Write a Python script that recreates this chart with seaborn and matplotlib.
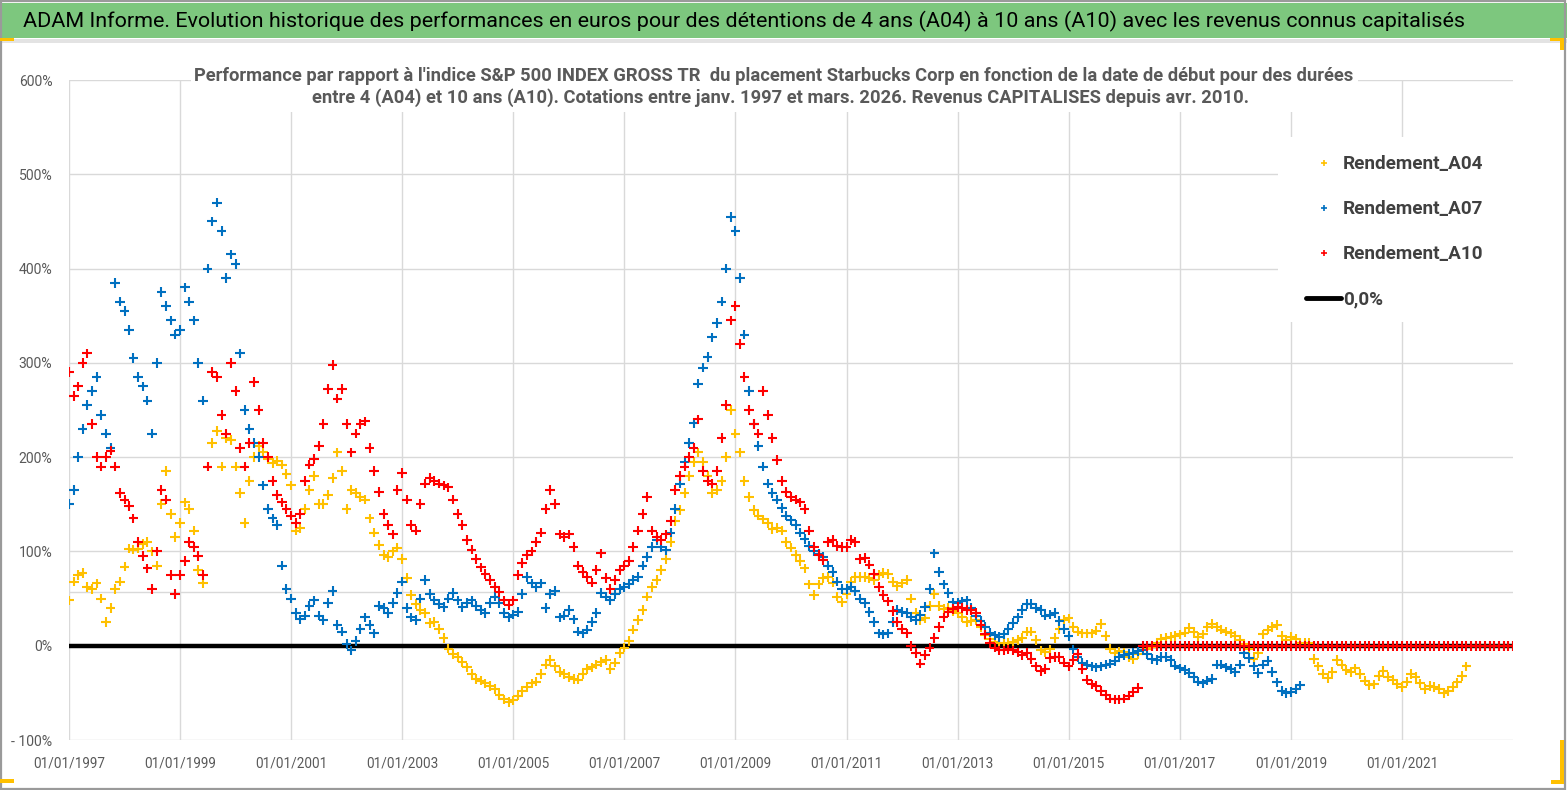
import numpy as np
import pandas as pd
import matplotlib
matplotlib.use("Agg")
import matplotlib.pyplot as plt
import matplotlib.dates as mdates
from matplotlib.lines import Line2D
from matplotlib.patches import Rectangle
from matplotlib.ticker import FuncFormatter
from matplotlib import font_manager
import seaborn as sns

# ---------------- data (monthly readings, % vs index) ----------------
start_date = "1997-01-01"

rend_a04 = [
    48, 68, 75, 77, 62, 60, 66, 50, 25, 40, 60, 68,
    84, 103, 102, 103, 108, 110, 100, 85, 150, 185, 140, 115,
    130, 152, 145, 122, 80, 66, 190, 215, 228, 190, 220, 218,
    190, 162, 130, 175, 200, 212, 205, 198, 194, 196, 192, 182,
    170, 122, 125, 145, 165, 180, 150, 150, 160, 178, 205, 185,
    145, 165, 162, 158, 155, 135, 120, 107, 96, 94, 100, 104,
    92, 72, 54, 44, 38, 35, 24, 25, 18, 8, -3, -9,
    -12, -17, -23, -30, -35, -37, -40, -43, -46, -52, -57, -60,
    -58, -53, -48, -44, -40, -38, -30, -20, -15, -22, -28, -30,
    -33, -35, -36, -30, -25, -23, -20, -17, -15, -25, -18, -8,
    -2, 5, 17, 27, 38, 52, 62, 70, 80, 92, 110, 132,
    144, 162, 180, 195, 205, 195, 180, 162, 165, 175, 200, 250,
    225, 205, 175, 158, 144, 138, 134, 130, 124, 125, 122, 110,
    104, 96, 90, 82, 65, 54, 65, 72, 73, 67, 52, 46,
    55, 68, 73, 73, 73, 72, 70, 75, 77, 76, 68, 63,
    66, 70, 50, 35, 27, 29, 42, 55, 42, 39, 40, 37,
    35, 30, 25, 26, 27, 20, 11, 7, 4, 3, 3, 3,
    4, 6, 8, 15, 15, 6, -5, -7, -4, 8, 18, 27,
    29, 20, 15, 13, 13, 13, 16, 23, 10, -3, -8, -6,
    -7, -12, -14, -9, -5, -3, -1, 3, 7, 8, 9, 10,
    12, 14, 19, 15, 9, 12, 20, 23, 20, 17, 15, 13,
    10, 6, 2, -4, -14, -8, 12, 17, 20, 22, 10, 6,
    9, 7, 3, 3, 3, -14, -22, -30, -34, -28, -15, -20,
    -26, -28, -24, -30, -37, -42, -41, -32, -27, -33, -36, -41,
    -44, -38, -30, -33, -40, -46, -43, -44, -46, -50, -48, -44,
    -39, -32, -22, 0, 0, 0, 0, 0, 0, 0, 0, 0,
    0,
]

rend_a07 = [
    150, 165, 200, 230, 255, 270, 285, 245, 225, 210, 385, 365,
    355, 335, 305, 285, 275, 260, 225, 300, 375, 360, 345, 330,
    335, 380, 365, 345, 300, 260, 400, 450, 470, 440, 390, 415,
    405, 310, 250, 230, 215, 200, 170, 145, 135, 128, 85, 60,
    50, 35, 28, 32, 42, 48, 32, 27, 45, 58, 22, 15,
    2, -5, 5, 18, 30, 22, 13, 42, 40, 35, 45, 56,
    68, 40, 30, 27, 50, 70, 55, 48, 44, 41, 50, 56,
    48, 41, 45, 48, 42, 38, 35, 45, 52, 45, 35, 30,
    33, 36, 55, 73, 66, 62, 66, 40, 55, 58, 30, 32,
    38, 28, 15, 13, 17, 25, 35, 56, 52, 48, 55, 60,
    62, 65, 70, 73, 85, 94, 105, 112, 105, 101, 120, 145,
    172, 195, 215, 236, 278, 295, 306, 327, 342, 365, 400, 455,
    440, 390, 330, 270, 235, 212, 190, 172, 162, 155, 146, 138,
    133, 128, 120, 113, 106, 100, 97, 94, 85, 78, 68, 60,
    60, 62, 58, 50, 45, 36, 25, 13, 12, 13, 25, 38,
    36, 35, 30, 27, 33, 41, 60, 98, 78, 65, 56, 46,
    45, 47, 48, 40, 32, 26, 20, 14, 11, 9, 12, 18,
    24, 30, 38, 44, 44, 40, 38, 32, 33, 35, 26, 18,
    10, -4, -12, -18, -20, -22, -23, -22, -20, -19, -16, -12,
    -10, -9, -8, -6, -5, -9, -14, -15, -12, -12, -15, -21,
    -24, -26, -29, -33, -38, -40, -37, -35, -20, -20, -23, -25,
    -28, -20, -8, -13, -22, -29, -20, -16, -28, -39, -48, -50,
    -49, -46, -42,
]

rend_a10 = [
    290, 265, 275, 300, 310, 235, 200, 190, 200, 207, 190, 162,
    155, 148, 135, 110, 95, 82, 60, 100, 165, 155, 75, 55,
    75, 90, 110, 105, 95, 75, 190, 290, 285, 245, 225, 300,
    270, 210, 190, 215, 280, 250, 215, 200, 175, 160, 152, 145,
    138, 130, 140, 175, 192, 198, 212, 235, 272, 298, 262, 272,
    235, 205, 225, 235, 238, 210, 185, 163, 140, 128, 118, 165,
    183, 155, 128, 122, 150, 172, 178, 175, 172, 170, 168, 155,
    140, 128, 112, 102, 92, 83, 76, 70, 62, 57, 48, 43,
    48, 75, 88, 96, 100, 110, 120, 145, 165, 150, 118, 115,
    118, 105, 85, 78, 73, 67, 80, 98, 72, 60, 70, 80,
    85, 90, 105, 122, 140, 158, 122, 115, 112, 118, 132, 165,
    180, 190, 200, 210, 240, 185, 175, 172, 185, 220, 255, 345,
    360, 320, 285, 250, 235, 225, 270, 245, 220, 197, 175, 163,
    158, 155, 152, 145, 122, 105, 96, 91, 110, 112, 106, 105,
    105, 112, 110, 92, 93, 86, 76, 62, 54, 47, 37, 25,
    18, 13, 0, -8, -19, -10, -2, 8, 20, 30, 36, 39,
    41, 40, 38, 38, 35, 22, 12, 3, -2, -5, -5, -4,
    -5, -7, -10, -8, -14, -22, -27, -25, -13, -12, -12, -18,
    -22, -15, -9, -25, -36, -41, -43, -48, -52, -56, -57, -57,
    -56, -53, -49, -45, 0, 0, 0, 0, 0, 0, 0, 0,
    0, 0, 0, 0, 0, 0, 0, 0, 0, 0, 0, 0,
    0, 0, 0, 0, 0, 0, 0, 0, 0, 0, 0, 0,
    0, 0, 0, 0, 0, 0, 0, 0, 0, 0, 0, 0,
    0, 0, 0, 0, 0, 0, 0, 0, 0, 0, 0, 0,
    0, 0, 0, 0, 0, 0, 0, 0, 0, 0, 0, 0,
    0, 0, 0, 0, 0, 0, 0, 0, 0, 0, 0, 0,
    0,
]

series_names = ["Rendement_A04", "Rendement_A07", "Rendement_A10"]
series_colors = ["#FFC000", "#0070C0", "#FF0000"]
zero_label = "0,0%"
tick_years = [1997, 1999, 2001, 2003, 2005, 2007, 2009, 2011, 2013, 2015, 2017, 2019, 2021]
y_ticks = [-100, 0, 100, 200, 300, 400, 500, 600]
extra_grid_level = 56.5

title_text = ("ADAM Informe. Evolution historique des performances en euros pour des "
              "détentions de 4 ans (A04) à 10 ans (A10) avec les revenus connus capitalisés")
subtitle_lines = [
    "Performance par rapport à l'indice S&P 500 INDEX GROSS TR  du placement Starbucks Corp "
    "en fonction de la date de début pour des durées",
    "entre 4 (A04) et 10 ans (A10). Cotations entre janv. 1997 et mars. 2026. "
    "Revenus CAPITALISES depuis avr. 2010.",
]

# ---------------- style ----------------
sns.set_theme(style="white")
available = {f.name for f in font_manager.fontManager.ttflist}
narrow = "Liberation Sans Narrow" if "Liberation Sans Narrow" in available else "Roboto"
plt.rcParams["font.family"] = [narrow, "DejaVu Sans"]

W_PX, H_PX = 1567, 790
fig = plt.figure(figsize=(W_PX / 100, H_PX / 100), dpi=100)
fig.patch.set_facecolor("white")


def fx(px):
    return px / W_PX


def fy(py):
    return 1 - py / H_PX


def fit_fontsize(text, target_px, **kw):
    probe = fig.text(0, 0, text, fontsize=20, **kw)
    r = fig.canvas.get_renderer()
    w = probe.get_window_extent(renderer=r).width
    probe.remove()
    return 20 * target_px / w


# plot area
left, right, top, bottom = 69, 1513, 80, 740
ax = fig.add_axes([fx(left), fy(bottom), fx(right - left), (bottom - top) / H_PX])
ax.set_facecolor("white")

frames = []
for name, vals in zip(series_names, [rend_a04, rend_a07, rend_a10]):
    dates = pd.date_range(start_date, periods=len(vals), freq="MS")
    frames.append(pd.DataFrame({"date": dates, "value": vals, "serie": name}))
df = pd.concat(frames, ignore_index=True)

ax.axhline(0, color="black", lw=3.2, zorder=2)
sns.scatterplot(data=df, x="date", y="value", hue="serie",
                palette=dict(zip(series_names, series_colors)),
                marker="+", s=48, linewidth=1.5, legend=False, ax=ax, zorder=3)

ax.set_xlim(pd.Timestamp("1997-01-01"), pd.Timestamp("2023-01-01"))
ax.set_ylim(-100, 600)
ax.set_xticks([pd.Timestamp(f"{y}-01-01") for y in tick_years])
ax.xaxis.set_major_formatter(mdates.DateFormatter("%d/%m/%Y"))
ax.set_yticks(y_ticks)
ax.yaxis.set_major_formatter(FuncFormatter(
    lambda v, p: f"- {abs(v):.0f}%" if v < 0 else f"{v:.0f}%"))
ax.set_xlabel("")
ax.set_ylabel("")
ax.grid(True, color="#D9D9D9", lw=1.0, zorder=0)
ax.axhline(extra_grid_level, color="#D9D9D9", lw=1.0, zorder=1)
for s in ax.spines.values():
    s.set_visible(False)

xfs = fit_fontsize("01/01/1997", 72)
yfs = fit_fontsize("600%", 34)
ax.tick_params(axis="x", length=0, pad=12, labelsize=xfs, labelcolor="#595959")
ax.tick_params(axis="y", length=0, pad=12, labelsize=yfs, labelcolor="#595959")

# ---------------- decorations ----------------
fig.patches.append(Rectangle((0, fy(38)), 1, 35 / H_PX, transform=fig.transFigure,
                             facecolor="#7DC77E", edgecolor="none", zorder=1))
fig.patches.append(Rectangle((0, fy(43)), 1, 4 / H_PX, transform=fig.transFigure,
                             facecolor="#E3E3E3", edgecolor="none", zorder=1))
fig.patches.append(Rectangle((0.0008, 0.0012), 0.998, 0.997, transform=fig.transFigure,
                             facecolor="none", edgecolor="#9A9A9A", lw=1.6, zorder=6))
for (x0, y0, w, h) in [(0, 38, 14, 3), (1550, 38, 14, 3), (1560, 38, 4, 12),
                       (0, 779, 14, 4), (1551, 780, 13, 4), (1560, 740, 4, 44)]:
    fig.patches.append(Rectangle((fx(x0), fy(y0 + h)), w / W_PX, h / H_PX,
                                 transform=fig.transFigure, facecolor="#FFC000",
                                 edgecolor="none", zorder=7))

# white boxes over the plot (subtitle and legend areas)
fig.patches.append(Rectangle((fx(191), fy(112)), fx(1358 - 191), 48 / H_PX,
                             transform=fig.transFigure, facecolor="white",
                             edgecolor="none", zorder=1))
fig.patches.append(Rectangle((fx(1278), fy(322)), fx(1555 - 1278), 185 / H_PX,
                             transform=fig.transFigure, facecolor="white",
                             edgecolor="none", zorder=1))

tfs = fit_fontsize(title_text, 1435)
fig.text(fx(744), fy(21), title_text, ha="center", va="center",
         fontsize=tfs, color="black", zorder=3)

sfs = fit_fontsize(subtitle_lines[0], 1158, fontweight="bold")
fig.text(fx(774), fy(76), subtitle_lines[0], ha="center", va="center",
         fontsize=sfs, fontweight="bold", color="#595959", zorder=3)
fig.text(fx(781), fy(98), subtitle_lines[1], ha="center", va="center",
         fontsize=sfs, fontweight="bold", color="#595959", zorder=3)

# ---------------- legend ----------------
lfs = fit_fontsize("Rendement_A04", 140, fontweight="bold")
fpx = lfs * 100 / 72
handles = [Line2D([], [], ls="none", marker="+", color=c, markersize=5, mew=1.2)
           for c in series_colors]
handles.append(Line2D([], [], color="black", lw=3.5))
labels = series_names + [zero_label]
leg = fig.legend(handles, labels, loc="upper left",
                 bbox_to_anchor=(fx(1306), fy(167 - 0.62 * fpx)),
                 frameon=False, borderpad=0, borderaxespad=0,
                 handlelength=35 / fpx, handletextpad=2 / fpx,
                 labelspacing=48.8 / fpx - 1.15,
                 prop={"size": lfs, "weight": "bold"})
for t in leg.get_texts():
    t.set_color("#404040")
leg.set_zorder(8)

fig.savefig("out.png", dpi=100, facecolor="white")
